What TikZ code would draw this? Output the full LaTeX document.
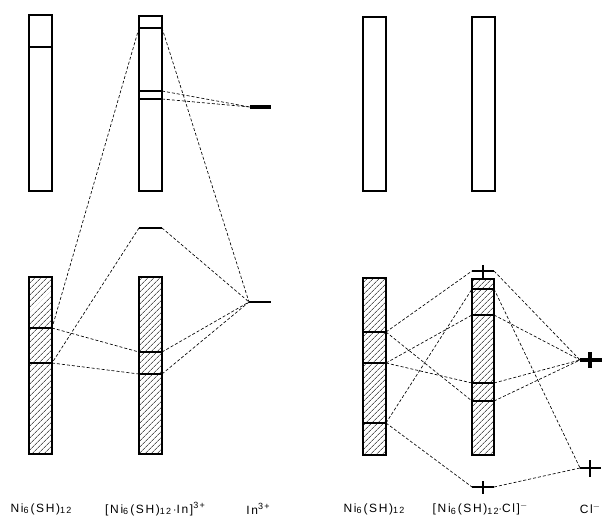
\documentclass[tikz,border=0pt]{standalone}
\usepackage{fontspec}
\setmainfont[LetterSpace=14]{Liberation Sans}
\usetikzlibrary{patterns.meta}
\tikzset{
  bar/.style={draw=black, line width=1.1pt, fill=white},
  hbar/.style={draw=black, line width=1.1pt, pattern={Lines[angle=45,distance=4pt,line width=0.5pt]}},
  lvl/.style={line width=1.6pt},
  conn/.style={line width=0.65pt, dash pattern=on 3pt off 2pt},
  lab/.style={font=\fontsize{12}{14}\selectfont, inner sep=0pt, anchor=center}
}
\newcommand{\sbs}[1]{\raisebox{-0.25ex}{\fontsize{9}{10}\selectfont #1}}
\newcommand{\sps}[1]{\raisebox{0.75ex}{\fontsize{9}{10}\selectfont #1}}
\begin{document}
\begin{tikzpicture}[x=1pt,y=-1pt]
\useasboundingbox[fill=white] (0,0) rectangle (602,526);
% ---------- left diagram: open bars ----------
\draw[bar] (29,15) rectangle (52,191);
\draw[line width=1.3pt] (29,47) -- (52,47);
\draw[bar] (139,16) rectangle (162,191);
\coordinate (b2tL) at (139,28); \coordinate (b2tR) at (162,28);
\draw[lvl] (b2tL) -- (b2tR);
\coordinate (b2uaL) at (139,91); \coordinate (b2uaR) at (162,91);
\coordinate (b2ubL) at (139,99); \coordinate (b2ubR) at (162,99);
\draw[line width=2.3pt] (b2uaL) -- (b2uaR);
\draw[line width=1.4pt] (b2ubL) -- (b2ubR);
\coordinate (inuL) at (250,107); \coordinate (inuR) at (271,107);
\draw[line width=3.8pt] (inuL) -- (inuR);
% ---------- left diagram: hatched bars ----------
\draw[hbar] (29,277) rectangle (52,454);
\coordinate (b1aL) at (29,328); \coordinate (b1aR) at (52,328);
\coordinate (b1bL) at (29,363); \coordinate (b1bR) at (52,363);
\draw[lvl] (b1aL) -- (b1aR);
\draw[lvl] (b1bL) -- (b1bR);
\draw[hbar] (139,277) rectangle (162,454);
\coordinate (b2aL) at (139,352); \coordinate (b2aR) at (162,352);
\coordinate (b2bL) at (139,374); \coordinate (b2bR) at (162,374);
\draw[lvl] (b2aL) -- (b2aR);
\draw[lvl] (b2bL) -- (b2bR);
\coordinate (midL) at (139,228); \coordinate (midR) at (162,228);
\draw[lvl] (midL) -- (midR);
\coordinate (inlL) at (249,302); \coordinate (inlR) at (271,302);
\draw[line width=1.4pt] (inlL) -- (inlR);
% connectors left
\draw[conn] (b2tL) -- (b1aR);
\draw[conn] (b2tR) -- (inlL);
\draw[conn] (midL) -- (b1bR);
\draw[conn] (midR) -- (inlL);
\draw[conn] (b1aR) -- (b2aL);
\draw[conn] (b1bR) -- (b2bL);
\draw[conn] (b2aR) -- (inlL);
\draw[conn] (b2bR) -- (inlL);
\draw[conn] (b2uaR) -- (inuL);
\draw[conn] (b2ubR) -- (inuL);
% ---------- right diagram: open bars ----------
\draw[bar] (363,17) rectangle (386,191);
\draw[bar] (472,17) rectangle (495,191);
% ---------- right diagram: hatched bars ----------
\draw[hbar] (363,278) rectangle (386,455);
\coordinate (b3aL) at (363,332); \coordinate (b3aR) at (386,332);
\coordinate (b3bL) at (363,363); \coordinate (b3bR) at (386,363);
\coordinate (b3cL) at (363,423); \coordinate (b3cR) at (386,423);
\draw[line width=2.3pt] (b3aL) -- (b3aR);
\draw[lvl] (b3bL) -- (b3bR);
\draw[line width=1.4pt] (b3cL) -- (b3cR);
\draw[hbar] (472,279) rectangle (494,455);
\coordinate (b4aL) at (472,289); \coordinate (b4aR) at (494,289);
\coordinate (b4bL) at (472,315); \coordinate (b4bR) at (494,315);
\coordinate (b4cL) at (472,383); \coordinate (b4cR) at (494,383);
\coordinate (b4dL) at (472,401); \coordinate (b4dR) at (494,401);
\draw[line width=1.4pt] (b4aL) -- (b4aR);
\draw[lvl] (b4bL) -- (b4bR);
\draw[lvl] (b4cL) -- (b4cR);
\draw[line width=2.8pt] (b4dL) -- (b4dR);
% plus-shaped levels
\coordinate (tpL) at (472,271); \coordinate (tpR) at (494,271);
\draw[line width=2.8pt] (tpL) -- (tpR);
\draw[line width=2.8pt] (483,265) -- (483,278);
\coordinate (bpL) at (472,487); \coordinate (bpR) at (494,487);
\draw[line width=1.7pt] (bpL) -- (bpR);
\draw[line width=1.7pt] (483,481) -- (483,494);
\coordinate (cuL) at (580,360); \coordinate (cuR) at (602,360);
\draw[line width=3.4pt] (cuL) -- (cuR);
\draw[line width=3.4pt] (590,352) -- (590,368);
\coordinate (clL) at (580,468); \coordinate (clR) at (601,468);
\draw[line width=1.7pt] (clL) -- (clR);
\draw[line width=1.7pt] (590,460) -- (590,477);
% connectors right
\draw[conn] (b3aR) -- (tpL);
\draw[conn] (b3aR) -- (b4dL);
\draw[conn] (b3bR) -- (b4bL);
\draw[conn] (b3bR) -- (b4cL);
\draw[conn] (b3cR) -- (b4aL);
\draw[conn] (b3cR) -- (bpL);
\draw[conn] (tpR) -- (cuL);
\draw[conn] (b4bR) -- (cuL);
\draw[conn] (b4cR) -- (cuL);
\draw[conn] (b4dR) -- (cuL);
\draw[conn] (b4aR) -- (clL);
\draw[conn] (bpR) -- (clL);
% ---------- labels ----------
\node[lab] (t1) at (41,509) {Ni\sbs{6}\,(SH)\sbs{12}};
\node[lab] (t2) at (155,509) {[Ni\sbs{6}\,(SH)\sbs{12}\,$\cdot$In]\sps{3+}};
\node[lab] (t3) at (258,509) {In\sps{3+}};
\node[lab] (t4) at (374,509) {Ni\sbs{6}\,(SH)\sbs{12}};
\node[lab] (t5) at (480,509) {[Ni\sbs{6}\,(SH)\sbs{12}$\cdot$Cl]\sps{$-$}};
\node[lab] (t6) at (590,509) {Cl\sps{$-$}};
\end{tikzpicture}
\end{document}
